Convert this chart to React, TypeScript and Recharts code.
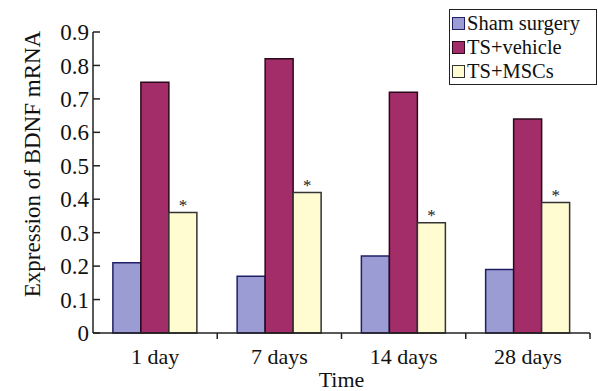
import { BarChart, Bar, XAxis, YAxis, LabelList } from "recharts";

const categories = ["1 day", "7 days", "14 days", "28 days"];
const sham = [0.21, 0.17, 0.23, 0.19];
const vehicle = [0.75, 0.82, 0.72, 0.64];
const mscs = [0.36, 0.42, 0.33, 0.39];
const yTicks = [0, 0.1, 0.2, 0.3, 0.4, 0.5, 0.6, 0.7, 0.8, 0.9];

const data = categories.map((name, i) => ({
  name,
  sham: sham[i],
  vehicle: vehicle[i],
  mscs: mscs[i],
}));

const font = "Liberation Serif, Times New Roman, Times, serif";

const legendItems = [
  { label: "Sham surgery", fill: "#9c9cd4", stroke: "#1f1f66" },
  { label: "TS+vehicle", fill: "#a32d69", stroke: "#2a0a1a" },
  { label: "TS+MSCs", fill: "#fffcd2", stroke: "#333333" },
];

const W = 598;
const H = 391;
const M = { top: 32, right: 8, bottom: 0, left: 0 };
const Y_W = 93;
// half of one category band, used for the boundary tick marks
const halfBand = (W - M.left - M.right - Y_W) / categories.length / 2;

function XTick(props: any) {
  const { x, y, payload } = props;
  const axisY = y - 8;
  return (
    <g>
      <line x1={x + halfBand} x2={x + halfBand} y1={axisY} y2={axisY - 6} stroke="#222" strokeWidth={1.5} />
      <text x={x} y={y + 17} textAnchor="middle" fontFamily={font} fontSize={22} fill="#111">
        {payload.value}
      </text>
    </g>
  );
}

function XLabel(props: any) {
  const { viewBox } = props;
  return (
    <text x={viewBox.x + viewBox.width / 2} y={387} textAnchor="middle" fontFamily={font} fontSize={22} fill="#111">
      Time
    </text>
  );
}

function YLabel() {
  return (
    <text
      x={40}
      y={164}
      transform="rotate(-90, 40, 164)"
      textAnchor="middle"
      fontFamily={font}
      fontSize={23}
      fill="#111"
    >
      Expression of BDNF mRNA
    </text>
  );
}

function LegendBox() {
  return (
    <div
      style={{
        position: "absolute",
        left: 449,
        top: 9,
        width: 142,
        border: "1.5px solid #222",
        background: "#fff",
        padding: "1px 2px",
        fontFamily: font,
        fontSize: 20.5,
        lineHeight: "24px",
        color: "#111",
      }}
    >
      {legendItems.map((it) => (
        <div key={it.label} style={{ display: "flex", alignItems: "center" }}>
          <span
            style={{
              display: "inline-block",
              width: 11,
              height: 11,
              background: it.fill,
              border: `1px solid ${it.stroke}`,
              marginRight: 2,
            }}
          />
          <span>{it.label}</span>
        </div>
      ))}
    </div>
  );
}

export default function App() {
  return (
    <div style={{ position: "fixed", left: 0, top: 0, width: W, height: H, background: "#fff" }}>
      <BarChart width={W} height={H} data={data} margin={M} barCategoryGap="16%" barGap={0}>
        <XAxis
          dataKey="name"
          height={58}
          tickLine={false}
          axisLine={{ stroke: "#222", strokeWidth: 1.5 }}
          tick={<XTick />}
          tickMargin={8}
          label={<XLabel />}
        />
        <YAxis
          width={Y_W}
          domain={[0, 0.9]}
          ticks={yTicks}
          interval={0}
          tickSize={-7}
          tickMargin={11}
          axisLine={{ stroke: "#222", strokeWidth: 1.5 }}
          tickLine={{ stroke: "#222", strokeWidth: 1.5 }}
          tick={{ fontFamily: font, fontSize: 23, fill: "#111" }}
          label={<YLabel />}
        />
        <Bar dataKey="sham" fill="#9c9cd4" stroke="#1f1f66" strokeWidth={1.5} isAnimationActive={false} />
        <Bar dataKey="vehicle" fill="#a32d69" stroke="#2a0a1a" strokeWidth={1.5} isAnimationActive={false} />
        <Bar dataKey="mscs" fill="#fffcd2" stroke="#333333" strokeWidth={1.5} isAnimationActive={false}>
          <LabelList
            dataKey="mscs"
            position="top"
            offset={2}
            formatter={() => "*"}
            style={{ fontFamily: font, fontSize: 17, fill: "#222" }}
          />
        </Bar>
      </BarChart>
      <LegendBox />
    </div>
  );
}
